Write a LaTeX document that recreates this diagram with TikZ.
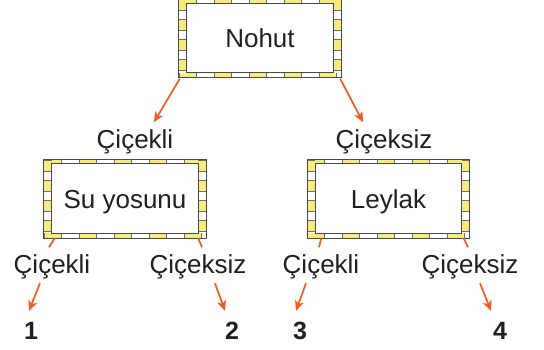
\documentclass[tikz,border=0pt]{standalone}
\usepackage{fontspec}
\setmainfont{Liberation Sans}
\usetikzlibrary{arrows.meta}
\definecolor{bandyellow}{HTML}{F6EB7C}
\definecolor{bandgray}{HTML}{6E6E6E}
\definecolor{edgegray}{HTML}{4A4A4A}
\definecolor{arrowred}{HTML}{F15A24}
\definecolor{txt}{HTML}{231F20}
\tikzset{
  framebox/.style={minimum width=162pt,minimum height=78pt,inner sep=0pt,
    text height=18.6pt,text depth=0pt,text=txt,font=\fontsize{26}{30}\selectfont},
  lbl/.style={inner sep=0pt,anchor=base,text height=18.6pt,text depth=0pt,text=txt,
    font=\fontsize{26}{30}\selectfont},
  num/.style={inner sep=0pt,anchor=base,text height=18pt,text depth=0pt,text=txt,
    font=\fontsize{25}{30}\selectfont\bfseries},
  conn/.style={draw=arrowred,line width=1.7pt},
  arr/.style={conn,-{Stealth[length=10pt,width=9pt,inset=2.5pt]}},
}
\newcommand\frameit[1]{%
  \fill[white,even odd rule] (#1.north west) rectangle (#1.south east)
    ([shift={(8,4)}]#1.north west) rectangle ([shift={(-8,-5)}]#1.south east);
  % top band
  \draw[bandgray,line width=4pt,dash pattern=on 18pt off 17pt]
    ([shift={(0,2)}]#1.north west) -- ([shift={(0,2)}]#1.north east);
  \draw[bandyellow,line width=4pt,dash pattern=on 16pt off 19pt,dash phase=-1pt]
    ([shift={(0,2)}]#1.north west) -- ([shift={(0,2)}]#1.north east);
  % bottom band
  \draw[bandgray,line width=5pt,dash pattern=on 18pt off 17pt]
    ([shift={(0,-2.5)}]#1.south west) -- ([shift={(0,-2.5)}]#1.south east);
  \draw[bandyellow,line width=5pt,dash pattern=on 16pt off 19pt,dash phase=-1pt]
    ([shift={(0,-2.5)}]#1.south west) -- ([shift={(0,-2.5)}]#1.south east);
  % side bands
  \draw[bandgray,line width=8pt,dash pattern=on 12pt off 8pt]
    ([shift={(4,0)}]#1.north west) -- ([shift={(4,0)}]#1.south west);
  \draw[bandyellow,line width=8pt,dash pattern=on 10pt off 10pt,dash phase=-1pt]
    ([shift={(4,0)}]#1.north west) -- ([shift={(4,0)}]#1.south west);
  \draw[bandgray,line width=8pt,dash pattern=on 12pt off 8pt]
    ([shift={(-4,0)}]#1.north east) -- ([shift={(-4,0)}]#1.south east);
  \draw[bandyellow,line width=8pt,dash pattern=on 10pt off 10pt,dash phase=-1pt]
    ([shift={(-4,0)}]#1.north east) -- ([shift={(-4,0)}]#1.south east);
  % outlines
  \draw[edgegray,line width=1pt] (#1.north west) rectangle (#1.south east);
  \draw[edgegray,line width=1pt] ([shift={(8,4)}]#1.north west) rectangle ([shift={(-8,-5)}]#1.south east);
}
\begin{document}
\begin{tikzpicture}[x=1pt,y=-1pt]
\fill[white] (0,0) rectangle (544,349);
\useasboundingbox (0,0) rectangle (544,349);

% boxes
\node[framebox] (nohut) at (260,38.5) {};
\frameit{nohut}
\node[framebox] at (nohut.center) {Nohut};
\node[framebox] (su) at (125,199) {};
\frameit{su}
\node[framebox] at (su.center) {Su yosunu};
\node[framebox] (ley) at (388.5,199) {};
\frameit{ley}
\node[framebox] at (ley.center) {Leylak};

% labels
\node[lbl] (c1) at (135,148) {Çiçekli};
\node[lbl] (c2) at (384,148) {Çiçeksiz};
\node[lbl] (l1) at (52,273) {Çiçekli};
\node[lbl] (l2) at (198,273) {Çiçeksiz};
\node[lbl] (l3) at (321,273) {Çiçekli};
\node[lbl] (l4) at (470,273) {Çiçeksiz};

% numbers
\node[num] (n1) at (31,339) {1};
\node[num] (n2) at (232,339) {2};
\node[num] (n3) at (300,339) {3};
\node[num] (n4) at (500,339) {4};

% connectors
\draw[arr] ([shift={(1,1)}]nohut.south west) -- ([shift={(19,-7)}]c1.north);
\draw[arr] ([shift={(-1,1)}]nohut.south east) -- ([shift={(-21,-7)}]c2.north);

\draw[conn] ([shift={(11,0)}]su.south west) -- ([shift={(-3,-7)}]l1.north);
\draw[arr] ([shift={(-12,10)}]l1.south) -- ([shift={(-2,-10)}]n1.north);
\draw[conn] ([shift={(-8,0)}]su.south east) -- ([shift={(4,-7)}]l2.north);
\draw[arr] ([shift={(17,10)}]l2.south) -- ([shift={(-7,-10)}]n2.north);

\draw[conn] ([shift={(14,0)}]ley.south west) -- ([shift={(-2,-7)}]l3.north);
\draw[arr] ([shift={(-15,10)}]l3.south) -- ([shift={(-4,-10)}]n3.north);
\draw[conn] ([shift={(-6,0)}]ley.south east) -- ([shift={(-2,-7)}]l4.north);
\draw[arr] ([shift={(10,10)}]l4.south) -- ([shift={(-9,-10)}]n4.north);
\end{tikzpicture}
\end{document}
